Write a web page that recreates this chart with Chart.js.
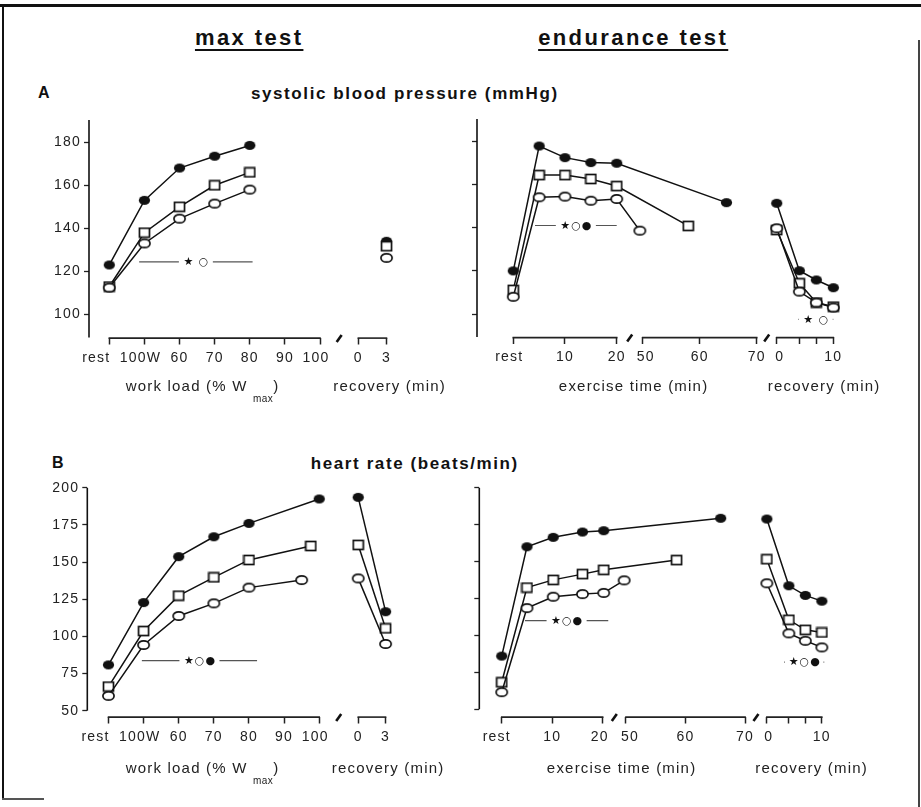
<!DOCTYPE html>
<html><head><meta charset="utf-8">
<script src="https://cdn.jsdelivr.net/npm/chart.js@4.4.1/dist/chart.umd.min.js"></script>
<style>
html,body{margin:0;padding:0;background:#fff}
body{position:relative;width:921px;height:807px;overflow:hidden;font-family:"Liberation Sans",Arial,Helvetica,sans-serif;color:#111}
canvas{position:absolute}
.txt{position:absolute;white-space:nowrap;line-height:1}
.frame{position:absolute;background:#111}
</style></head><body>
<div class="frame" style="left:0;top:4px;width:921px;height:3px"></div>
<div class="frame" style="left:2px;top:4px;width:2px;height:796px"></div>
<div class="frame" style="left:918px;top:40px;width:2px;height:767px;background:#444"></div>
<div class="frame" style="left:2px;top:798px;width:42px;height:2px;background:#555"></div>
<canvas id="cAL"></canvas><canvas id="cAR"></canvas><canvas id="cBL"></canvas><canvas id="cBR"></canvas>
<script>
// ================= DATA =================
// tick labels
const maxLoadTicks = ['rest', '100W', 60, 70, 80, 90, 100];
const maxRecTicks = [0, 3];
const endTimeTicks1 = [0, 10, 20];
const endTimeTicks2 = [50, 60, 70];
const endRecTicks = [0, 4, 7, 10];
const endRecTickLabels = ['0', '', '', '10'];
const sbpTicks = [100, 120, 140, 160, 180];
const hrTicks = [50, 75, 100, 125, 150, 175, 200];

// A: systolic blood pressure (mmHg) – max test
const sbpMaxLoad = ['rest', '100W', 60, 70, 80];
const sbpMaxFilled = [123, 153, 168, 173.5, 178.5];
const sbpMaxSquare = [113, 138, 150, 160, 166];
const sbpMaxCircle = [112.5, 133, 144.5, 151.5, 158];
const sbpMaxRecTime = [3];
const sbpMaxRecFilled = [134];
const sbpMaxRecSquare = [131.7];
const sbpMaxRecCircle = [126.3];

// A: systolic blood pressure – endurance test
const sbpEndTimeFilled = [0, 5, 10, 15, 20, 64.7];
const sbpEndFilled = [120, 178, 172.6, 170.3, 170, 151.7];
const sbpEndTimeSquare = [0, 5, 10, 15, 20, 58];
const sbpEndSquare = [111.2, 164.5, 164.5, 162.7, 159.4, 140.9];
const sbpEndTimeCircle = [0, 5, 10, 15, 20, 49.5];
const sbpEndCircle = [108, 154.2, 154.5, 152.6, 153.4, 138.7];
const endRecTime = [0, 4, 7, 10];
const sbpEndRecFilled = [151.4, 120.1, 115.8, 112.2];
const sbpEndRecSquare = [139, 114.3, 105.3, 103.4];
const sbpEndRecCircle = [139.8, 110.4, 105.3, 103];

// B: heart rate (beats/min) – max test
const hrMaxLoadFilled = ['rest', '100W', 60, 70, 80, 100];
const hrMaxFilled = [80.8, 122.7, 153.6, 167, 176, 192.4];
const hrMaxLoadSquare = ['rest', '100W', 60, 70, 80, 97.6];
const hrMaxSquare = [66.2, 103.6, 127.4, 139.7, 151.4, 160.8];
const hrMaxLoadCircle = ['rest', '100W', 60, 70, 80, 95];
const hrMaxCircle = [60, 94.2, 113.7, 122.2, 132.8, 137.9];
const hrMaxRecTime = [0, 3];
const hrMaxRecFilled = [193.5, 116.6];
const hrMaxRecSquare = [161.5, 105.4];
const hrMaxRecCircle = [139, 94.9];

// B: heart rate – endurance test
const hrEndTimeFilled = [0, 5, 10.2, 16, 20.2, 65.9];
const hrEndFilled = [86, 160, 166.4, 170, 170.9, 179.3];
const hrEndTimeSquare = [0, 5, 10.2, 16, 20.2, 58.5];
const hrEndSquare = [68.3, 132.4, 137.6, 141.5, 144.4, 151];
const hrEndTimeCircle = [0, 5, 10.2, 16, 20.2, 49.7];
const hrEndCircle = [61.6, 118.5, 126.2, 128, 128.8, 137.3];
const hrEndRecFilled = [178.8, 133.6, 127.1, 123.2];
const hrEndRecSquare = [151.6, 110.6, 103.8, 102];
const hrEndRecCircle = [135.3, 101.4, 96.4, 91.9];

// significance bars: [from, to, level, symbols]
const sigSbpMax = [48.5, 80.8, 124.4, '★ ○'];
const sigSbpEnd = [4.2, 20, 141.1, '★○●'];
const sigSbpEndRec = [3.8, 10, 97.5, '★ ○'];
const sigHrMax = [49.5, 82.3, 83.7, '★○●'];
const sigHrEnd = [4.6, 21.1, 110, '★○●'];
const sigHrEndRec = [3.3, 10.3, 82, '★○●'];

// ================= RENDERING =================
const FONT = '"Liberation Sans", Arial, Helvetica, sans-serif';
Chart.defaults.font.family = FONT;

function ellipseMarker(rx, ry, filled) {
  const c = document.createElement('canvas');
  const w = Math.ceil(rx * 2 + 3), h = Math.ceil(ry * 2 + 3);
  c.width = w; c.height = h;
  const g = c.getContext('2d');
  g.beginPath(); g.ellipse(w / 2, h / 2, rx, ry, 0, 0, Math.PI * 2);
  if (filled) { g.fillStyle = '#111'; g.fill(); }
  else { g.fillStyle = '#fff'; g.fill(); g.lineWidth = 1.7; g.strokeStyle = '#111'; g.stroke(); }
  return c;
}
function squareMarker(w0, h0) {
  const c = document.createElement('canvas');
  c.width = w0 + 3; c.height = h0 + 3;
  const g = c.getContext('2d');
  g.fillStyle = '#fff'; g.fillRect(1.5, 1.5, w0, h0);
  g.lineWidth = 1.7; g.strokeStyle = '#111'; g.strokeRect(1.5, 1.5, w0, h0);
  return c;
}
const MK = { filled: ellipseMarker(5.6, 4.6, true), circle: ellipseMarker(5.6, 4.2, false), square: squareMarker(10, 9) };

function build(id, S) {
  const cv = document.getElementById(id);
  cv.width = S.box.w; cv.height = S.box.h;
  cv.style.left = S.box.x + 'px'; cv.style.top = S.box.y + 'px';
  const A = S.area;
  const kx = S.xRef.k;
  const xmin = S.xRef.u - (S.xRef.px - A.L) / kx;
  const xmax = S.xRef.u + (A.R - S.xRef.px) / kx;
  const ky = (S.yRef.p1 - S.yRef.p2) / (S.yRef.v2 - S.yRef.v1);
  const ymax = S.yRef.v2 + (S.yRef.p2 - A.T) / ky;
  const ymin = S.yRef.v1 - (A.B - S.yRef.p1) / ky;
  const ticks = [];
  S.xTicks.forEach(t => {
    if (t.dx) {
      ticks.push({ value: t.u, lbl: '', mark: true });
      ticks.push({ value: t.u + t.dx / kx, lbl: t.label, mark: false });
    } else ticks.push({ value: t.u, lbl: t.label, mark: true });
  });
  ticks.sort((a, b) => a.value - b.value);

  const datasets = S.series.map(s => ({
    data: s.xs.map((v, i) => ({ x: s.map(v), y: s.ys[i] })),
    showLine: s.line, pointStyle: MK[s.mk], pointRadius: 5,
    borderColor: '#111', backgroundColor: '#111', borderWidth: 1.5, tension: 0, clip: false
  }));

  const deco = {
    id: 'deco',
    beforeDraw(chart) { chart.ctx.letterSpacing = '1.2px'; },
    afterDraw(chart) {
      const ctx = chart.ctx, a = chart.chartArea, xs = chart.scales.x, ys = chart.scales.y;
      ctx.save();
      ctx.letterSpacing = '0px';
      ctx.lineCap = 'butt';
      // y axis line
      ctx.strokeStyle = '#111'; ctx.lineWidth = 1.6;
      const yTop = S.yLine ? ys.getPixelForValue(S.yLine[1]) : a.top;
      const yBot = S.yLine ? ys.getPixelForValue(S.yLine[0]) : a.bottom;
      ctx.beginPath(); ctx.moveTo(a.left, yTop); ctx.lineTo(a.left, yBot); ctx.stroke();
      // x-axis brackets
      ctx.strokeStyle = '#222'; ctx.lineWidth = 1.6;
      S.brackets.forEach(([u1, u2]) => {
        const yb = a.bottom + 0.6;
        ctx.beginPath();
        ctx.moveTo(xs.getPixelForValue(u1) - 0.75, yb);
        ctx.lineTo(xs.getPixelForValue(u2) + 0.75, yb);
        ctx.stroke();
      });
      // axis break marks
      ctx.strokeStyle = '#111'; ctx.lineWidth = 2.6;
      S.breaks.forEach(u => {
        const cx = xs.getPixelForValue(u), cy = a.bottom + 1;
        ctx.beginPath(); ctx.moveTo(cx - 2.5, cy + 3.5); ctx.lineTo(cx + 2.5, cy - 3.5); ctx.stroke();
      });
      // significance bars
      ctx.font = '11px "DejaVu Sans"'; ctx.textAlign = 'center'; ctx.textBaseline = 'middle';
      ctx.letterSpacing = '1px';
      S.sig.forEach(b => {
        const [f, t, lvl, sym] = b.d;
        const x1 = xs.getPixelForValue(b.map(f)), x2 = xs.getPixelForValue(b.map(t));
        const py = ys.getPixelForValue(lvl);
        const mid = (x1 + x2) / 2, w = ctx.measureText(sym).width;
        ctx.strokeStyle = '#555'; ctx.lineWidth = 1.2;
        ctx.beginPath();
        ctx.moveTo(x1, py); ctx.lineTo(mid - w / 2 - 4, py);
        ctx.moveTo(mid + w / 2 + 4, py); ctx.lineTo(x2, py);
        ctx.stroke();
        ctx.fillStyle = '#111'; ctx.fillText(sym, mid + 0.5, py + 0.5);
      });
      ctx.restore();
    }
  };

  return new Chart(cv, {
    type: 'scatter',
    data: { datasets },
    plugins: [deco],
    options: {
      responsive: false, animation: false, events: [],
      layout: { padding: { left: 0, top: A.T - S.box.y, right: S.box.x + S.box.w - A.R, bottom: 0 } },
      plugins: { legend: { display: false }, tooltip: { enabled: false } },
      scales: {
        x: {
          type: 'linear', min: xmin, max: xmax,
          afterFit: s => { s.height = S.box.y + S.box.h - A.B; },
          afterBuildTicks: s => { s.ticks = ticks.map(t => ({ ...t })); },
          ticks: {
            autoSkip: false, maxRotation: 0, minRotation: 0, padding: 5, color: '#222',
            font: { family: FONT, size: 14 },
            callback: (v, i, ts) => ts[i].lbl
          },
          grid: {
            drawOnChartArea: false, drawTicks: true, tickLength: 7, tickWidth: 1.5,
            tickColor: c => (c.tick && c.tick.mark === false) ? 'rgba(0,0,0,0)' : '#222'
          },
          border: { display: false }
        },
        y: {
          type: 'linear', min: ymin, max: ymax,
          afterFit: s => { s.width = A.L - S.box.x; },
          afterBuildTicks: s => { s.ticks = S.yTicks.map(v => ({ value: v })); },
          ticks: {
            padding: 3, color: '#222', font: { family: FONT, size: 14 },
            callback: v => S.yLabels ? String(v) : ''
          },
          grid: { drawOnChartArea: false, drawTicks: true, tickLength: 5, tickWidth: 1.3, tickColor: '#222' },
          border: { display: false }
        }
      }
    }
  });
}

// ---- axis segment mappings (layout) ----
const workU = v => v === 'rest' ? 40 : (v === '100W' ? 50 : v);
const recAL = t => 110.9 + 2.677 * t;
const recBL = t => 111.1 + 2.6 * t;
const exAR = t => t <= 35 ? t : 25.03 + (t - 50) * 1.1025;
const recAR = t => 50.95 + 1.095 * t;
const exBR = t => t <= 35 ? t : 24.6 + (t - 50) * 1.18;
const recBR = t => 52.5 + 1.089 * t;

function maxTicks(rec, dx) {
  return maxLoadTicks.map(v => ({ u: workU(v), label: String(v), dx: dx[String(v)] || 0 }))
    .concat(maxRecTicks.map(t => ({ u: rec(t), label: String(t) })));
}
function endTicks(ex, rec, dx) {
  return endTimeTicks1.map(t => ({ u: ex(t), label: t === 0 ? 'rest' : String(t), dx: dx[t === 0 ? 'rest' : String(t)] || 0 }))
    .concat(endTimeTicks2.map(t => ({ u: ex(t), label: String(t), dx: dx[String(t)] || 0 })))
    .concat(endRecTicks.map((t, i) => ({ u: rec(t), label: endRecTickLabels[i], dx: i === 0 ? (dx['r0'] || 0) : 0 })));
}
function ser(xs, ys, map, mk, line) { return { xs, ys, map, mk, line }; }

build('cAL', {
  box: { x: 0, y: 105, w: 460, h: 300 }, area: { L: 89, T: 120, R: 425, B: 337.5 },
  xRef: { u: 40, px: 109.3, k: 3.512 }, yRef: { v1: 100, p1: 314.5, v2: 180, p2: 142.2 },
  yTicks: sbpTicks, yLabels: true, yLine: null,
  xTicks: maxTicks(recAL, { rest: -13, '100W': -4, '100': -4 }),
  brackets: [[workU('rest'), workU(100)], [recAL(0), recAL(3)]],
  breaks: [(workU(100) + recAL(0)) / 2],
  sig: [{ d: sigSbpMax, map: workU }],
  series: [
    ser(sbpMaxLoad, sbpMaxCircle, workU, 'circle', true),
    ser(sbpMaxLoad, sbpMaxSquare, workU, 'square', true),
    ser(sbpMaxLoad, sbpMaxFilled, workU, 'filled', true),
    ser(sbpMaxRecTime, sbpMaxRecCircle, recAL, 'circle', false),
    ser(sbpMaxRecTime, sbpMaxRecSquare, recAL, 'square', false),
    ser(sbpMaxRecTime, sbpMaxRecFilled, recAL, 'filled', false)
  ]
});

build('cAR', {
  box: { x: 460, y: 105, w: 461, h: 300 }, area: { L: 477, T: 119, R: 880, B: 337 },
  xRef: { u: 0, px: 513.3, k: 5.17 }, yRef: { v1: 100, p1: 314, v2: 180, p2: 141.7 },
  yTicks: sbpTicks, yLabels: false, yLine: null,
  xTicks: endTicks(exAR, recAR, { rest: -4, '50': 3, r0: 3 }),
  brackets: [[exAR(0), exAR(20)], [exAR(50), exAR(70)], [recAR(0), recAR(10)]],
  breaks: [(exAR(20) + exAR(50)) / 2, (exAR(70) + recAR(0)) / 2],
  sig: [{ d: sigSbpEnd, map: exAR }, { d: sigSbpEndRec, map: recAR }],
  series: [
    ser(sbpEndTimeCircle, sbpEndCircle, exAR, 'circle', true),
    ser(sbpEndTimeSquare, sbpEndSquare, exAR, 'square', true),
    ser(sbpEndTimeFilled, sbpEndFilled, exAR, 'filled', true),
    ser(endRecTime, sbpEndRecCircle, recAR, 'circle', true),
    ser(endRecTime, sbpEndRecSquare, recAR, 'square', true),
    ser(endRecTime, sbpEndRecFilled, recAR, 'filled', true)
  ]
});

build('cBL', {
  box: { x: 0, y: 475, w: 460, h: 310 }, area: { L: 87.3, T: 487.7, R: 425, B: 716.5 },
  xRef: { u: 40, px: 108.5, k: 3.512 }, yRef: { v1: 50, p1: 710.7, v2: 200, p2: 487.7 },
  yTicks: hrTicks, yLabels: true, yLine: [50, 200],
  xTicks: maxTicks(recBL, { rest: -13, '100W': -4, '100': -4 }),
  brackets: [[workU('rest'), workU(100)], [recBL(0), recBL(3)]],
  breaks: [(workU(100) + recBL(0)) / 2],
  sig: [{ d: sigHrMax, map: workU }],
  series: [
    ser(hrMaxLoadCircle, hrMaxCircle, workU, 'circle', true),
    ser(hrMaxLoadSquare, hrMaxSquare, workU, 'square', true),
    ser(hrMaxLoadFilled, hrMaxFilled, workU, 'filled', true),
    ser(hrMaxRecTime, hrMaxRecCircle, recBL, 'circle', true),
    ser(hrMaxRecTime, hrMaxRecSquare, recBL, 'square', true),
    ser(hrMaxRecTime, hrMaxRecFilled, recBL, 'filled', true)
  ]
});

build('cBR', {
  box: { x: 460, y: 475, w: 461, h: 310 }, area: { L: 479.3, T: 487.7, R: 880, B: 716.5 },
  xRef: { u: 0, px: 501.7, k: 5.05 }, yRef: { v1: 50, p1: 709.3, v2: 200, p2: 487.7 },
  yTicks: hrTicks, yLabels: false, yLine: [50, 200],
  xTicks: endTicks(exBR, recBR, { rest: -5, '20': -3, '50': 4, r0: 2 }),
  brackets: [[exBR(0), exBR(20)], [exBR(50), exBR(70)], [recBR(0), recBR(10)]],
  breaks: [(exBR(20) + exBR(50)) / 2, (exBR(70) + recBR(0)) / 2],
  sig: [{ d: sigHrEnd, map: exBR }, { d: sigHrEndRec, map: recBR }],
  series: [
    ser(hrEndTimeCircle, hrEndCircle, exBR, 'circle', true),
    ser(hrEndTimeSquare, hrEndSquare, exBR, 'square', true),
    ser(hrEndTimeFilled, hrEndFilled, exBR, 'filled', true),
    ser(endRecTime, hrEndRecCircle, recBR, 'circle', true),
    ser(endRecTime, hrEndRecSquare, recBR, 'square', true),
    ser(endRecTime, hrEndRecFilled, recBR, 'filled', true)
  ]
});

// ---- text ----
function txt(html, x, base, size, o) {
  const d = document.createElement('div');
  d.className = 'txt';
  d.innerHTML = html;
  d.style.fontSize = size + 'px';
  d.style.fontWeight = o.bold ? '700' : '400';
  d.style.letterSpacing = (o.ls || 0) + 'px';
  d.style.color = o.color || '#111';
  d.style.top = (base - 0.8465 * size) + 'px';
  if (o.center) { d.style.left = (x + (o.ls || 0) / 2) + 'px'; d.style.transform = 'translateX(-50%)'; }
  else d.style.left = x + 'px';
  if (o.u) { d.style.textDecoration = 'underline'; d.style.textDecorationThickness = '1.6px'; d.style.textUnderlineOffset = '4px'; }
  document.body.appendChild(d);
}
txt('max test', 248, 46, 22, { bold: true, ls: 2.4, center: true, u: true });
txt('endurance test', 632, 46, 22, { bold: true, ls: 2.4, center: true, u: true });
txt('A', 38, 99, 16, { bold: true });
txt('systolic blood pressure (mmHg)', 404, 99, 17, { bold: true, ls: 1.6, center: true });
txt('B', 52, 469, 16, { bold: true });
txt('heart rate (beats/min)', 414, 469, 17, { bold: true, ls: 1.6, center: true });
const sub = 'work load (% W <span style="font-size:10px;position:relative;top:11px;letter-spacing:0.5px">max</span>)';
const at = { ls: 1.2, center: true, color: '#222' };
txt(sub, 202, 391, 15, at);
txt('recovery (min)', 389, 391, 15, at);
txt('exercise time (min)', 633, 391, 15, at);
txt('recovery (min)', 823.5, 391, 15, at);
txt(sub, 202, 773, 15, at);
txt('recovery (min)', 387.5, 773, 15, at);
txt('exercise time (min)', 621, 773, 15, at);
txt('recovery (min)', 811, 773, 15, at);
</script>
</body></html>
